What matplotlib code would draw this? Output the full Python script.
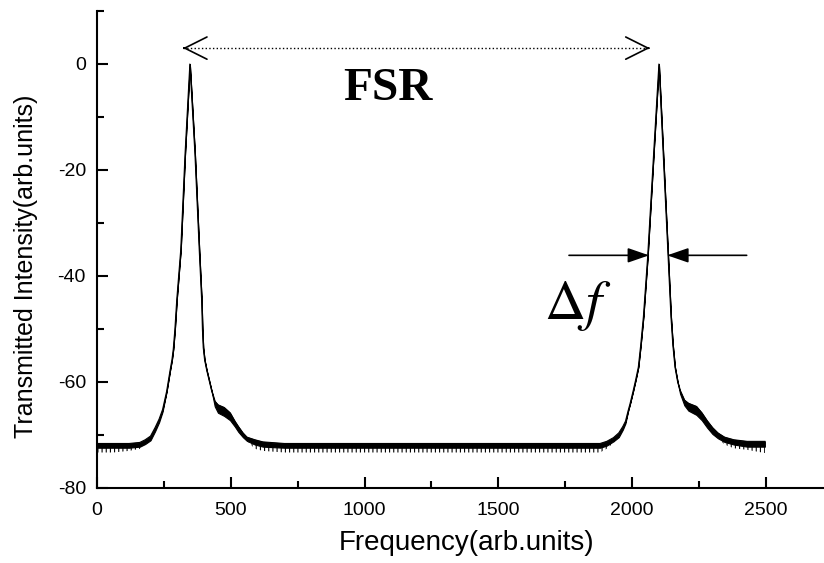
import matplotlib
matplotlib.use("Agg")
import matplotlib.pyplot as plt
from matplotlib.ticker import MultipleLocator

# transmission spectrum (arb. units)
freq = [0, 60, 120, 160, 180, 200, 217, 232, 245, 260, 273, 280, 285, 291, 298, 313, 329,
        347, 366, 382, 391, 394, 397, 402, 410, 428, 440, 452, 475, 497, 515, 528, 545, 560,
        590, 620, 700, 1880, 1905, 1930, 1950, 1965, 1975, 1985, 1992, 2004, 2013, 2023,
        2032, 2042, 2058, 2079, 2100, 2117, 2134, 2145, 2152, 2160, 2170, 2179, 2195, 2210,
        2240, 2260, 2280, 2300, 2320, 2345, 2380, 2430, 2496]
signal_top = [-71.6, -71.6, -71.6, -71.4, -70.9, -70.2, -68.6, -67.0, -65.2, -61.8,
              -57.8, -55.8, -53.8, -50.1, -44.5, -35.0, -17.0, 0.0, -17.0, -35.0, -44.5,
              -50.1, -53.5, -55.8, -57.8, -61.6, -63.6, -64.3, -64.8, -65.8, -67.4, -68.4,
              -69.6, -70.4, -70.9, -71.3, -71.6, -71.6, -71.2, -70.5, -69.6, -68.4, -67.4,
              -65.4, -64.1, -61.6, -59.6, -57.2, -53.0, -47.7, -36.3, -18.0, 0.0, -18.0,
              -36.0, -47.7, -53.0, -57.2, -60.0, -61.6, -63.4, -64.0, -64.6, -65.8, -67.3,
              -68.6, -69.6, -70.4, -70.9, -71.2, -71.2]
signal_bottom = [-72.4, -72.4, -72.4, -72.2, -71.7, -71.0, -69.3, -67.6, -65.6, -61.8,
                 -57.8, -55.8, -53.8, -50.1, -44.5, -35.0, -17.0, 0.0, -17.0, -35.0, -44.5,
                 -50.1, -53.5, -55.8, -57.8, -61.6, -64.6, -65.8, -66.4, -67.2, -68.4, -69.4,
                 -70.4, -71.1, -71.8, -72.2, -72.4, -72.4, -72.0, -71.2, -70.4, -69.0, -67.8,
                 -65.4, -64.1, -61.6, -59.6, -57.2, -53.0, -47.7, -36.3, -18.0, 0.0, -18.0,
                 -36.0, -47.7, -53.0, -57.2, -60.0, -62.2, -64.4, -65.4, -66.2, -67.2, -68.6,
                 -69.8, -70.6, -71.3, -71.8, -72.2, -72.2]
# lowest noise spikes under the trace
spike_floor = [-73.3, -73.3, -73.0, -72.6, -71.7, -71.0, -69.3, -67.6, -65.6, -61.8,
               -57.8, -55.8, -53.8, -50.1, -44.5, -35.0, -17.0, 0.0, -17.0, -35.0, -44.5,
               -50.1, -53.5, -55.8, -57.8, -61.6, -64.6, -65.8, -66.4, -67.2, -68.4, -69.4,
               -70.4, -71.1, -72.6, -73.0, -73.3, -73.3, -72.6, -71.5, -70.4, -69.0, -67.8,
               -65.4, -64.1, -61.6, -59.6, -57.2, -53.0, -47.7, -36.3, -18.0, 0.0, -18.0,
               -36.0, -47.7, -53.0, -57.2, -60.0, -62.2, -64.4, -65.4, -66.2, -67.2, -68.6,
               -69.8, -70.6, -71.8, -72.5, -72.8, -73.4]

# annotation anchors
fsr_span = (321, 2066)
fsr_y = 3
fwhm_left = (1764, 2063)
fwhm_right = (2428, 2131)
fwhm_y = -36.1

plt.rcParams["font.family"] = ["Liberation Sans", "DejaVu Sans"]
plt.rcParams["mathtext.fontset"] = "stix"
plt.rcParams["axes.unicode_minus"] = False
plt.rcParams["hatch.linewidth"] = 0.8

fig = plt.figure(figsize=(8.24, 5.63), dpi=100)
ax = fig.add_axes([97 / 824, 1 - 488 / 563, 1 - 97 / 824, 477 / 563])

ax.fill_between(freq, signal_bottom, signal_top, color="black", lw=0.8)
ax.fill_between(freq, spike_floor, signal_bottom, facecolor="none",
                edgecolor="black", hatch="||||", lw=0)
ax.plot(freq, signal_top, color="black", lw=0.8)

# FSR arrow: dotted shaft, open heads
ax.plot(fsr_span, [fsr_y, fsr_y], color="black", ls=":", lw=1.0)
for x0, dx in [(fsr_span[0], 1), (fsr_span[1], -1)]:
    ax.annotate("", xy=(x0, fsr_y), xytext=(x0 + dx * 5, fsr_y),
                arrowprops=dict(arrowstyle="->,head_length=1.6,head_width=0.8",
                                lw=1.2, color="black", shrinkA=0, shrinkB=0))
ax.text(1087, -4.8, "FSR", fontsize=34, fontweight="bold",
        family="Liberation Serif", ha="center", va="center")

# linewidth arrows
for x0, x1 in [fwhm_left, fwhm_right]:
    ax.annotate("", xy=(x1, fwhm_y), xytext=(x0, fwhm_y),
                arrowprops=dict(arrowstyle="-|>,head_length=1.3,head_width=0.45",
                                lw=1.2, color="black", shrinkA=0, shrinkB=0))
ax.text(1795, -45.6, r"$\Delta f$", fontsize=41, ha="center", va="center")

ax.set_xlim(0, 2717)
ax.set_ylim(-80, 10)
ax.xaxis.set_major_locator(MultipleLocator(500))
ax.xaxis.set_minor_locator(MultipleLocator(250))
ax.yaxis.set_major_locator(MultipleLocator(20))
ax.yaxis.set_minor_locator(MultipleLocator(10))

for side in ["top", "right"]:
    ax.spines[side].set_visible(False)
for side in ["left", "bottom"]:
    ax.spines[side].set_linewidth(1.5)
ax.tick_params(which="major", direction="in", length=8, width=1.5, labelsize=14, pad=8)
ax.tick_params(which="minor", direction="in", length=5, width=1.5)
ax.tick_params(axis="x", which="major", pad=10)

ax.set_xlabel("Frequency(arb.units)", fontsize=20)
ax.set_ylabel("Transmitted Intensity(arb.units)", fontsize=18)
ax.xaxis.set_label_coords(0.508, -0.088)
ax.yaxis.set_label_coords(-0.081, 0.465)

fig.savefig("out.png", dpi=100)
